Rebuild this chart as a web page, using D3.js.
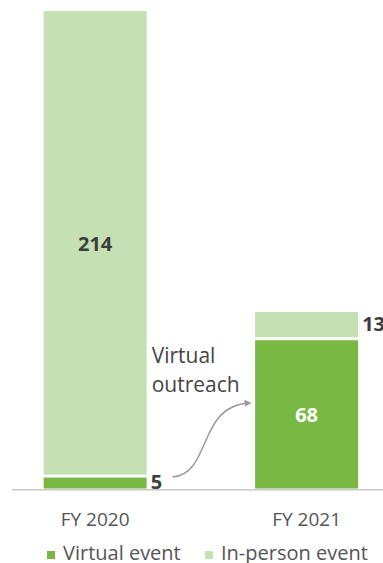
<!DOCTYPE html>
<html>
<head>
<meta charset="utf-8">
<script src="https://cdn.jsdelivr.net/npm/d3@7"></script>
<style>
  html, body { margin: 0; padding: 0; background: #ffffff; }
  svg { display: block; font-family: "Open Sans", "Noto Sans", sans-serif; }
</style>
</head>
<body>
<svg id="chart" width="383" height="563"></svg>
<script>
const categories = ["FY 2020", "FY 2021"];
const virtualEvents = [5, 68];
const inPersonEvents = [214, 13];
const seriesNames = ["Virtual event", "In-person event"];
const seriesKeys = ["virtual", "inperson"];
const annotationLines = ["Virtual", "outreach"];

const colors = { virtual: "#79b843", inperson: "#c5e0b3" };

const W = 383, H = 563;
const svg = d3.select("#chart");

const table = categories.map((c, i) => ({ cat: c, virtual: virtualEvents[i], inperson: inPersonEvents[i] }));
const stack = d3.stack().keys(seriesKeys)(table);

const x = d3.scaleBand().domain(categories).range([12, W])
  .paddingInner(0.513).paddingOuter(0.1336).align(0.56);
const y = d3.scaleLinear().domain([0, d3.max(table, d => d.virtual + d.inperson)]).range([488.5, 11]);

const GAP = 3;

// bars
stack.forEach(layer => {
  svg.append("g").selectAll("rect").data(layer).join("rect")
    .attr("x", d => x(d.data.cat))
    .attr("width", x.bandwidth())
    .attr("y", d => y(d[1]))
    .attr("height", d => (y(d[0]) - (d[0] > 0 ? GAP : 0)) - y(d[1]))
    .attr("fill", colors[layer.key]);
});

// axis baseline
const xAxis = svg.append("g").attr("transform", `translate(0,${y(0) + 1.2})`)
  .call(d3.axisBottom(x).tickSize(0).tickPadding(0));
xAxis.select(".domain").attr("stroke", "#c9c9c9").attr("stroke-width", 1.5).attr("d", `M12,0H${W}`);
xAxis.selectAll(".tick text")
  .attr("dy", 0).attr("y", 36)
  .attr("font-size", 19).attr("fill", "#555")
  .attr("font-family", '"Open Sans", sans-serif');

// value labels
const labelSize = 20;
function mid(d) { return (y(d[0]) - (d[0] > 0 ? GAP : 0) + y(d[1])) / 2; }
const inside = [
  { d: stack[1][0], color: "#3d3d3d" },
  { d: stack[0][1], color: "#ffffff" }
];
inside.forEach(o => {
  svg.append("text")
    .attr("x", x(o.d.data.cat) + x.bandwidth() / 2)
    .attr("y", mid(o.d) + labelSize * 0.4)
    .attr("text-anchor", "middle")
    .attr("font-size", labelSize).attr("font-weight", 700)
    .attr("fill", o.color)
    .text(o.d[1] - o.d[0]);
});
const outside = [stack[0][0], stack[1][1]];
outside.forEach(d => {
  svg.append("text")
    .attr("x", x(d.data.cat) + x.bandwidth() + 4)
    .attr("y", mid(d) + labelSize * 0.3)
    .attr("text-anchor", "start")
    .attr("font-size", labelSize).attr("font-weight", 700)
    .attr("fill", "#3d3d3d")
    .text(d[1] - d[0]);
});

// annotation
const annX = x(categories[0]) + x.bandwidth() + 5;
svg.append("text")
  .attr("x", annX).attr("y", 363)
  .attr("font-size", 21).attr("fill", "#454545")
  .selectAll("tspan").data(annotationLines).join("tspan")
  .attr("x", annX).attr("dy", (d, i) => i === 0 ? 0 : 29)
  .text(d => d);

svg.append("defs").append("marker")
  .attr("id", "arrow").attr("viewBox", "0 0 10 10")
  .attr("refX", 8).attr("refY", 5)
  .attr("markerWidth", 7).attr("markerHeight", 7)
  .attr("markerUnits", "userSpaceOnUse")
  .attr("orient", "auto")
  .append("path").attr("d", "M0,0L10,5L0,10z").attr("fill", "#9a9a9a");

const sx = x(categories[0]) + x.bandwidth() + 26, sy = mid(stack[0][0]) - 6;
const ex = x(categories[1]) - 5, ey = 403;
const p = d3.path();
p.moveTo(sx, sy);
p.bezierCurveTo(sx + 40, sy - 4, sx + 24, ey + 2, ex, ey);
svg.append("path").attr("d", p.toString())
  .attr("fill", "none").attr("stroke", "#9a9a9a").attr("stroke-width", 1.5)
  .attr("marker-end", "url(#arrow)");

// legend
const legendX = [47, 205];
const legend = svg.append("g");
seriesKeys.forEach((k, i) => {
  legend.append("rect").attr("x", legendX[i]).attr("y", 551).attr("width", 8).attr("height", 8)
    .attr("fill", colors[k]);
  legend.append("text").attr("x", legendX[i] + 16).attr("y", 560)
    .attr("font-size", 20).attr("fill", "#555").text(seriesNames[i]);
});
</script>
</body>
</html>
